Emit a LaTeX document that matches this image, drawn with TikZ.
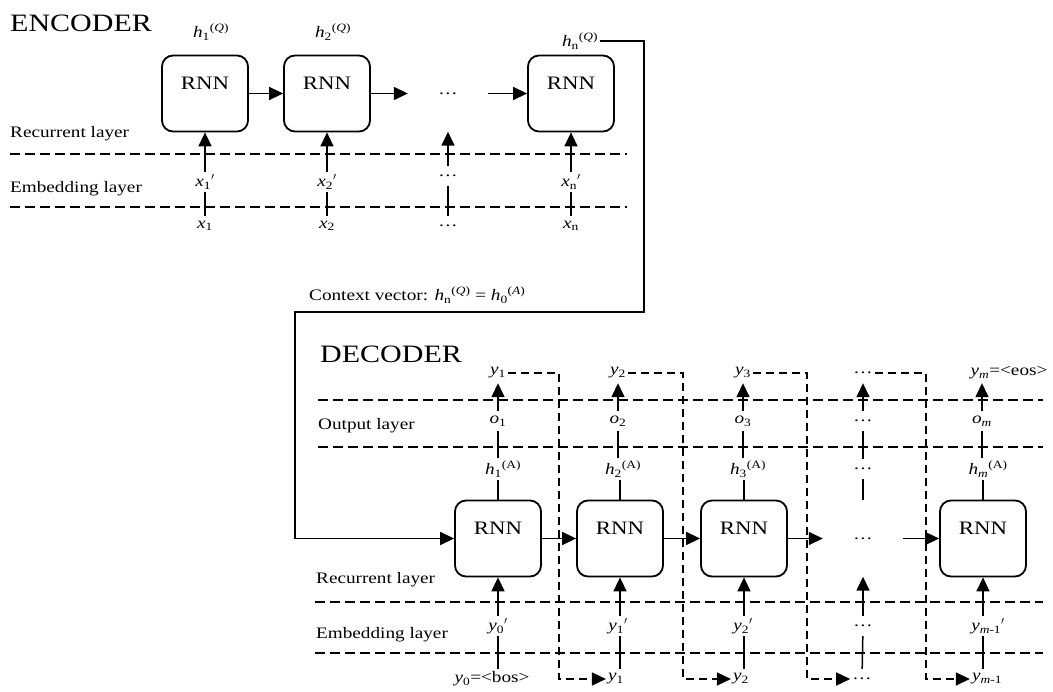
\documentclass[tikz,border=0pt]{standalone}
\usepackage{fontspec}
\setmainfont{Liberation Serif}[FakeStretch=1.2]
\usetikzlibrary{arrows.meta,positioning,calc}

\newcommand{\vsub}[2]{\textit{#1}\textsubscript{#2}}
\newcommand{\vsup}[3]{\textit{#1}\textsubscript{#2}\textsuperscript{#3}}
\newcommand{\vemb}[2]{\textit{#1}\textsubscript{#2}$'$}

\begin{document}
\begin{tikzpicture}[x=1pt,y=-1pt,
  rnn/.style={draw,line width=1.8pt,rounded corners=11pt,minimum width=86pt,minimum height=76pt,text depth=20pt,font=\fontsize{19}{22}\selectfont},
  ghost/.style={minimum width=80pt,minimum height=76pt,inner sep=0pt,font=\fontsize{16}{18}\selectfont},
  lbl/.style={inner sep=2pt,minimum height=20pt,font=\fontsize{16}{18}\selectfont},
  title/.style={anchor=west,inner sep=0pt,font=\fontsize{25}{28}\selectfont},
  layer/.style={anchor=west,inner sep=0pt,font=\fontsize{16}{18}\selectfont},
  sep/.style={line width=1.5pt,dash pattern=on 10pt off 5pt},
  link/.style={line width=1.5pt},
  arr/.style={line width=1.5pt,-{Triangle[length=14pt,width=13pt]}},
  fb/.style={line width=1.5pt,dash pattern=on 8pt off 5pt,-{Triangle[length=14pt,width=13pt]}}]
  \useasboundingbox (0,0) rectangle (1053,692);
  % Titles
  \node[title] (encTitle) at (10,23) {ENCODER};
  \node[title] (decTitle) at (320,354) {DECODER};

  % Encoder layers
  \node[layer] (encRec) at (10,134) {Recurrent layer};
  \node[layer] (encEmb) at (10,189) {Embedding layer};
  \draw[sep] (10,154) -- (627,154);
  \draw[sep] (10,207) -- (627,207);
  % Encoder cells
  \node[rnn] (e1) at (205,93.5) {RNN};
  \node[rnn] (e2) at (327,93.5) {RNN};
  \node[ghost] (edots) at (448,93.5) {\ldots};
  \node[rnn] (en) at (571,93.5) {RNN};
  \draw[arr] (e1) -- (e2);
  \draw[arr] (e2) -- (edots);
  \draw[arr] (edots) -- (en);
  % Encoder states
  \node[lbl] (h1q) at (211,32) {\vsup{h}{1}{(\textit{Q})}};
  \node[lbl] (h2q) at (333,32) {\vsup{h}{2}{(\textit{Q})}};
  \node[lbl] (hnq) at (580,41) {\vsup{h}{n}{(\textit{Q})}};
  % Encoder inputs
  \node[lbl] (x1p) at (205,182) {\vemb{x}{1}};
  \node[lbl] (x2p) at (327,182) {\vemb{x}{2}};
  \node[lbl] (xdp) at (448,176) {\ldots};
  \node[lbl] (xnp) at (571,182) {\vemb{x}{n}};
  \node[lbl] (x1) at (205,226) {\vsub{x}{1}};
  \node[lbl] (x2) at (327,226) {\vsub{x}{2}};
  \node[lbl] (xd) at (448,226) {\ldots};
  \node[lbl] (xn) at (571,226) {\vsub{x}{n}};
  \draw[arr] (x1p) -- (e1);
  \draw[arr] (x2p) -- (e2);
  \draw[arr] (xdp) -- (edots);
  \draw[arr] (xnp) -- (en);
  \draw[link] (x1p) -- (x1);
  \draw[link] (x2p) -- (x2);
  \draw[link] (xdp) -- (xd);
  \draw[link] (xnp) -- (xn);

  % Context vector
  \node[lbl,anchor=base west,minimum height=0pt] (ctx) at (307,301)
    {Context vector: \vsup{h}{n}{(\textit{Q})} = \vsup{h}{0}{(\textit{A})}};
  \coordinate (ctxR) at (644,312);
  \coordinate (ctxL) at (295,312);

  % Decoder layers
  \node[layer] (decOut) at (318,426) {Output layer};
  \node[layer] (decRec) at (316,580) {Recurrent layer};
  \node[layer] (decEmb) at (316,635) {Embedding layer};
  \draw[sep] (318,400) -- (1043,400);
  \draw[sep] (318,447) -- (1043,447);
  \draw[sep] (315,602) -- (1043,602);
  \draw[sep] (315,653) -- (1043,653);
  % Decoder cells
  \node[rnn] (d1) at (498,538.5) {RNN};
  \node[rnn] (d2) at (620,538.5) {RNN};
  \node[rnn] (d3) at (744,538.5) {RNN};
  \node[ghost] (ddots) at (863,538.5) {\ldots};
  \node[rnn] (dm) at (983,538.5) {RNN};
  \draw[arr] (hnq.east) -| (ctxR) -- (ctxL) |- (d1.west);
  \draw[arr] (d1) -- (d2);
  \draw[arr] (d2) -- (d3);
  \draw[arr] (d3) -- (ddots);
  \draw[arr] (ddots) -- (dm);
  % Decoder outputs
  \node[lbl] (yt1) at (498,373) {\vsub{y}{1}};
  \node[lbl] (yt2) at (618,373) {\vsub{y}{2}};
  \node[lbl] (yt3) at (743,373) {\vsub{y}{3}};
  \node[lbl] (ytd) at (863,373) {\ldots};
  \node[lbl] (ytm) at (1009,373) {\vsub{y}{\textit{m}}=<eos>};
  \node[lbl] (o1) at (498,421) {\vsub{o}{1}};
  \node[lbl] (o2) at (618,421) {\vsub{o}{2}};
  \node[lbl] (o3) at (743,421) {\vsub{o}{3}};
  \node[lbl] (od) at (863,421) {\ldots};
  \node[lbl] (om) at (982,421) {\vsub{o}{\textit{m}}};
  \node[lbl] (h1a) at (503,469) {\vsup{h}{1}{(A)}};
  \node[lbl] (h2a) at (623,469) {\vsup{h}{2}{(A)}};
  \node[lbl] (h3a) at (748,469) {\vsup{h}{3}{(A)}};
  \node[lbl] (hd) at (863,469) {\ldots};
  \node[lbl] (hma) at (988,469) {\vsup{h}{\textit{m}}{(A)}};
  \draw[arr] (o1) -- (yt1);
  \draw[arr] (o2) -- (yt2);
  \draw[arr] (o3) -- (yt3);
  \draw[arr] (od) -- (ytd);
  \draw[arr] (om.north) -- (om.north |- ytm.south);
  \draw[link] (o1.south) -- (o1.south |- h1a.north);
  \draw[link] (o2.south) -- (o2.south |- h2a.north);
  \draw[link] (o3.south) -- (o3.south |- h3a.north);
  \draw[link] (od) -- (hd);
  \draw[link] (om.south) -- (om.south |- hma.north);
  \draw[link] (d1.north |- h1a.south) -- (d1.north);
  \draw[link] (d2.north |- h2a.south) -- (d2.north);
  \draw[link] (d3.north |- h3a.south) -- (d3.north);
  \draw[link] (hd) -- (ddots);
  \draw[link] (dm.north |- hma.south) -- (dm.north);
  % Decoder inputs
  \node[lbl] (y0p) at (498,626) {\vemb{y}{0}};
  \node[lbl] (y1p) at (618,626) {\vemb{y}{1}};
  \node[lbl] (y2p) at (743,626) {\vemb{y}{2}};
  \node[lbl] (ydp) at (863,626) {\ldots};
  \node[lbl] (ymp) at (988,626) {\vemb{y}{\textit{m}-1}};
  \node[lbl] (y0b) at (492,679) {\vsub{y}{0}=<bos>};
  \node[lbl] (y1b) at (616,679) {\vsub{y}{1}};
  \node[lbl] (y2b) at (741,679) {\vsub{y}{2}};
  \node[lbl] (ydb) at (862,679) {\ldots};
  \node[lbl] (ymb) at (987,679) {\vsub{y}{\textit{m}-1}};
  \draw[arr] (d1.south |- y0p.north) -- (d1.south);
  \draw[arr] (d2.south |- y1p.north) -- (d2.south);
  \draw[arr] (d3.south |- y2p.north) -- (d3.south);
  \draw[arr] (ydp) -- (ddots);
  \draw[arr] (dm.south |- ymp.north) -- (dm.south);
  \draw[link] (d1.south |- y0p.south) -- (d1.south |- y0b.north);
  \draw[link] (d2.south |- y1p.south) -- (d2.south |- y1b.north);
  \draw[link] (d3.south |- y2p.south) -- (d3.south |- y2b.north);
  \draw[link] (ydp) -- (ydb);
  \draw[link] (dm.south |- ymp.south) -- (dm.south |- ymb.north);
  % Feedback of outputs
  \coordinate (fb1) at (559,0);
  \coordinate (fb2) at (683,0);
  \coordinate (fb3) at (807,0);
  \coordinate (fb4) at (926,0);
  \draw[fb] (yt1.east) -| (fb1 |- y1b.west) -- (y1b.west);
  \draw[fb] (yt2.east) -| (fb2 |- y2b.west) -- (y2b.west);
  \draw[fb] (yt3.east) -| (fb3 |- ydb.west) -- (ydb.west);
  \draw[fb] (ytd.east) -| (fb4 |- ymb.west) -- (ymb.west);
\end{tikzpicture}
\end{document}
